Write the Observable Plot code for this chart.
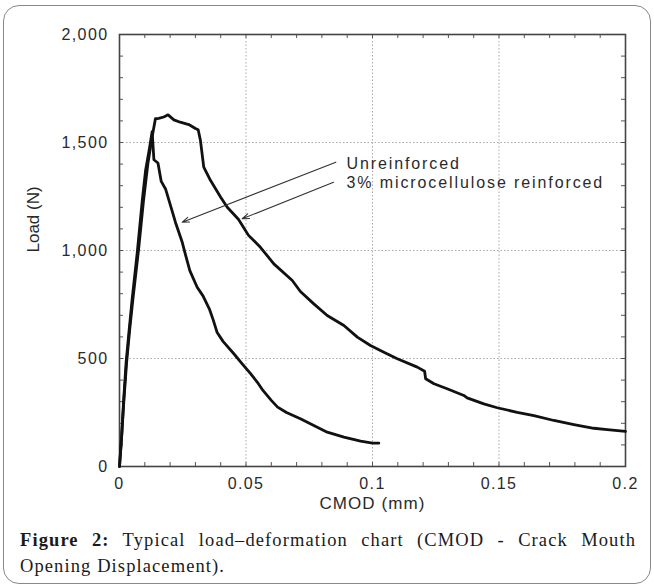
<!DOCTYPE html>
<html><head><meta charset="utf-8">
<script src="https://cdn.jsdelivr.net/npm/d3@7"></script>
<script src="https://cdn.jsdelivr.net/npm/@observablehq/plot@0.6"></script>
<style>
html,body{margin:0;padding:0;background:#fff;}
#wrap{position:relative;width:654px;height:586px;overflow:hidden;background:#fff;}
#box{position:absolute;left:3px;top:5px;width:648px;height:579px;border:1.5px solid #888;border-radius:16px;box-sizing:border-box;}
#chart{position:absolute;left:0;top:0;}
#caption{position:absolute;left:20px;top:527px;width:616px;font-family:"Liberation Serif","Times New Roman",serif;font-size:18.5px;line-height:26px;color:#1a1a1a;letter-spacing:1.1px;}
#caption .l1{text-align:justify;text-align-last:justify;}
g[aria-label="x-axis tick label"] text, g[aria-label="y-axis tick label"] text{letter-spacing:1.4px;}
</style></head>
<body>
<div id="wrap">
<div id="box"></div>
<div id="chart"></div>
<div id="caption"><div class="l1"><b>Figure 2:</b> Typical load–deformation chart (CMOD - Crack Mouth</div><div>Opening Displacement).</div></div>
</div>
<script>
// Unreinforced specimen: CMOD (mm) and load (N)
const unreinforcedCmod = [0, 0.0008, 0.0016, 0.0026, 0.0038, 0.005, 0.0071, 0.009, 0.0103, 0.0118, 0.0129, 0.0136, 0.0152, 0.0165, 0.0182, 0.0200, 0.0221, 0.0248, 0.0262, 0.0278, 0.0307, 0.0330, 0.0355, 0.0370, 0.0386, 0.0410, 0.0452, 0.0485, 0.0518, 0.0545, 0.0567, 0.0600, 0.0625, 0.0660, 0.0715, 0.0768, 0.0821, 0.0887, 0.0953, 0.1000, 0.1025];
const unreinforcedLoad = [0, 130, 300, 480, 630, 775, 1000, 1232, 1370, 1470, 1550, 1420, 1405, 1320, 1285, 1215, 1131, 1038, 975, 907, 830, 790, 730, 680, 620, 578, 522, 475, 430, 390, 352, 306, 275, 250, 221, 190, 159, 136, 117, 108, 108];

// 3% microcellulose reinforced specimen
const reinforcedCmod = [0, 0.0008, 0.0017, 0.0028, 0.0040, 0.0053, 0.0075, 0.0095, 0.0112, 0.0128, 0.0142, 0.0155, 0.0175, 0.0192, 0.0215, 0.0240, 0.0274, 0.0300, 0.0311, 0.0320, 0.0333, 0.0360, 0.0400, 0.0426, 0.0470, 0.0510, 0.0557, 0.0610, 0.0683, 0.0715, 0.0768, 0.0821, 0.0887, 0.0940, 0.0992, 0.1045, 0.1098, 0.1177, 0.1206, 0.1210, 0.1243, 0.1295, 0.1361, 0.1374, 0.1440, 0.1493, 0.1572, 0.1638, 0.1717, 0.1796, 0.1875, 0.1928, 0.2000];
const reinforcedLoad = [0, 130, 300, 480, 630, 775, 1000, 1232, 1400, 1520, 1610, 1612, 1618, 1628, 1605, 1594, 1583, 1565, 1559, 1509, 1386, 1324, 1247, 1200, 1145, 1070, 1015, 938, 861, 810, 753, 699, 653, 599, 560, 529, 499, 460, 441, 406, 383, 360, 329, 318, 290, 272, 251, 236, 213, 194, 177, 171, 163];

// Axis ticks
const xTicks = [0, 0.05, 0.1, 0.15, 0.2];
const yTicks = [0, 500, 1000, 1500, 2000];
const xGrid = [0.05, 0.1, 0.15];
const yGrid = [500, 1000, 1500];
const xMinor = [0.01, 0.02, 0.03, 0.04, 0.05, 0.06, 0.07, 0.08, 0.09, 0.1, 0.11, 0.12, 0.13, 0.14, 0.15, 0.16, 0.17, 0.18, 0.19];
const yMinor = [100, 200, 300, 400, 500, 600, 700, 800, 900, 1000, 1100, 1200, 1300, 1400, 1500, 1600, 1700, 1800, 1900];

// Annotations
const labelTexts = ["Unreinforced", "3% microcellulose reinforced"];
const labelCmod = [0.0897, 0.0897];
const labelLoad = [1403, 1315];
const arrowFromCmod = [0.0855, 0.0846];
const arrowFromLoad = [1409, 1316];
const arrowToCmod = [0.0248, 0.0485];
const arrowToLoad = [1131, 1147];
const xLabel = "CMOD (mm)";
const yLabel = "Load (N)";

const unreinforced = unreinforcedCmod.map((c, i) => ({cmod: c, load: unreinforcedLoad[i]}));
const reinforced = reinforcedCmod.map((c, i) => ({cmod: c, load: reinforcedLoad[i]}));
const labels = labelTexts.map((t, i) => ({text: t, cmod: labelCmod[i], load: labelLoad[i]}));
const arrows = arrowFromCmod.map((c, i) => ({x1: c, y1: arrowFromLoad[i], x2: arrowToCmod[i], y2: arrowToLoad[i]}));

const chart = Plot.plot({
  width: 654,
  height: 525,
  marginLeft: 119,
  marginRight: 29,
  marginTop: 34,
  marginBottom: 59,
  style: {fontFamily: "'Liberation Sans', Arial, sans-serif", fontSize: "16px", color: "#2a2a2a", background: "transparent"},
  x: {domain: [0, 0.2]},
  y: {domain: [0, 2000]},
  marks: [
    Plot.gridX(xGrid, {stroke: "#aaa", strokeOpacity: 1, strokeWidth: 1, strokeDasharray: "1.5,2"}),
    Plot.gridY(yGrid, {stroke: "#aaa", strokeOpacity: 1, strokeWidth: 1, strokeDasharray: "1.5,2"}),
    Plot.tickX(xMinor, {x: d => d, insetTop: 428, stroke: "#555", strokeWidth: 1}),
    Plot.tickX(xMinor, {x: d => d, insetBottom: 428, stroke: "#555", strokeWidth: 1}),
    Plot.tickY(yMinor, {y: d => d, insetRight: 502, stroke: "#555", strokeWidth: 1}),
    Plot.tickY(yMinor, {y: d => d, insetLeft: 502, stroke: "#555", strokeWidth: 1}),
    Plot.frame({stroke: "#444", strokeWidth: 1.6}),
    Plot.line(unreinforced, {x: "cmod", y: "load", stroke: "#111", strokeWidth: 2.8, strokeLinejoin: "round", strokeLinecap: "round"}),
    Plot.line(reinforced, {x: "cmod", y: "load", stroke: "#111", strokeWidth: 2.8, strokeLinejoin: "round", strokeLinecap: "round"}),
    Plot.arrow(arrows, {x1: "x1", y1: "y1", x2: "x2", y2: "y2", stroke: "#333", strokeWidth: 1.1, headLength: 10, headAngle: 40}),
    Plot.text(labels, {x: "cmod", y: "load", text: "text", textAnchor: "start", fontSize: 16, fill: "#2a2a2a"}),
    Plot.axisX({ticks: xTicks, tickFormat: d => String(d), tickSize: 0, tickPadding: 11, fontSize: 16, label: null}),
    Plot.axisY({ticks: yTicks, tickFormat: d3.format(","), tickSize: 0, tickPadding: 11, fontSize: 16, label: null}),
    Plot.text([xLabel], {text: d => d, frameAnchor: "bottom", dy: 42, fontSize: 17, fill: "#2a2a2a"}),
    Plot.text([yLabel], {text: d => d, frameAnchor: "left", dx: -86, dy: 2, rotate: -90, fontSize: 17, fill: "#2a2a2a"})
  ]
});
// widen horizontal text like the reference
d3.select(chart).selectAll("text").each(function() {
  const t = this.textContent;
  if (labelTexts.includes(t)) this.style.letterSpacing = "1.9px";
  else if (t === xLabel) this.style.letterSpacing = "1.1px";
});
document.getElementById("chart").appendChild(chart);
</script>
</body></html>
